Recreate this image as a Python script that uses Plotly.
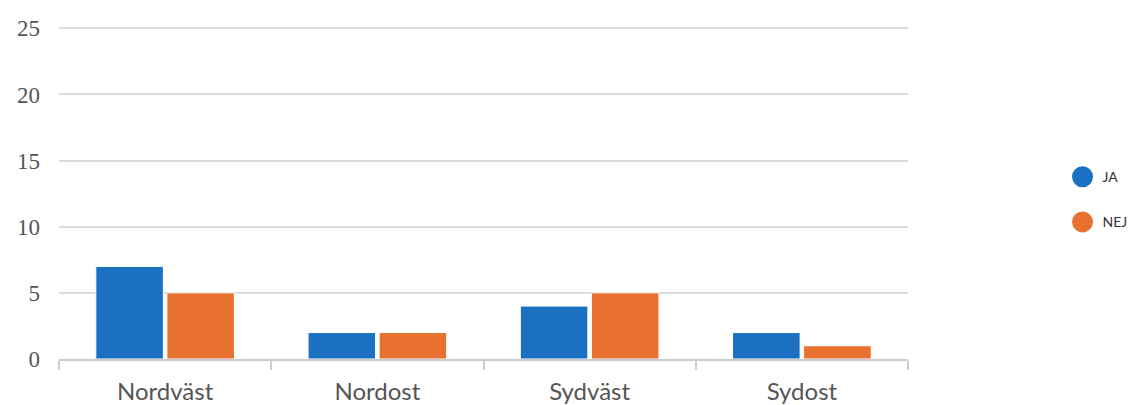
import plotly.graph_objects as go

categories = ["Nordväst", "Nordost", "Sydväst", "Sydost"]
ja_values = [7, 2, 4, 2]
nej_values = [5, 2, 5, 1]
series_names = ["JA", "NEJ"]
colors = ["#1b70c1", "#e87130"]
y_ticks = [0, 5, 10, 15, 20, 25]

fig = go.Figure()
for name, vals, col in zip(series_names, [ja_values, nej_values], colors):
    fig.add_trace(go.Bar(x=categories, y=vals, name=name, marker_color=col,
                         marker_line_color="white", marker_line_width=1,
                         showlegend=False))
    fig.add_trace(go.Scatter(x=[None], y=[None], mode="markers", name=name,
                             legendgroup=name,
                             marker=dict(color=col, size=16, symbol="circle",
                                         line=dict(color=col, width=5))))

fig.update_layout(
    width=1141, height=405,
    margin=dict(l=59, r=233, t=27, b=46, autoexpand=False),
    paper_bgcolor="white", plot_bgcolor="white",
    barmode="group", bargap=0.33, bargroupgap=0.05,
    legend=dict(x=1.182, y=0.48, xanchor="left", yanchor="middle",
                font=dict(family="Lato, Noto Sans, sans-serif", size=14, color="#333"),
                tracegroupgap=24, itemsizing="trace"),
    xaxis=dict(showline=True, linecolor="#cccccc", linewidth=2, automargin=False,
               ticks="outside", tickson="boundaries", ticklen=9, tickcolor="#cccccc",
               tickwidth=2, showgrid=False, ticklabelstandoff=10,
               tickfont=dict(family="Lato, Noto Sans, sans-serif", size=24, color="#555")),
    yaxis=dict(range=[0, 25.1], tickvals=y_ticks, showgrid=True, gridcolor="#dcdcdc",
               gridwidth=2, zeroline=False, showline=False, automargin=False,
               ticklabelstandoff=18,
               tickfont=dict(family="Liberation Serif, Times New Roman, serif", size=23, color="#555")),
)

fig.write_html("out.html", config={"displayModeBar": False},
               post_script="document.body.style.margin='0';")
